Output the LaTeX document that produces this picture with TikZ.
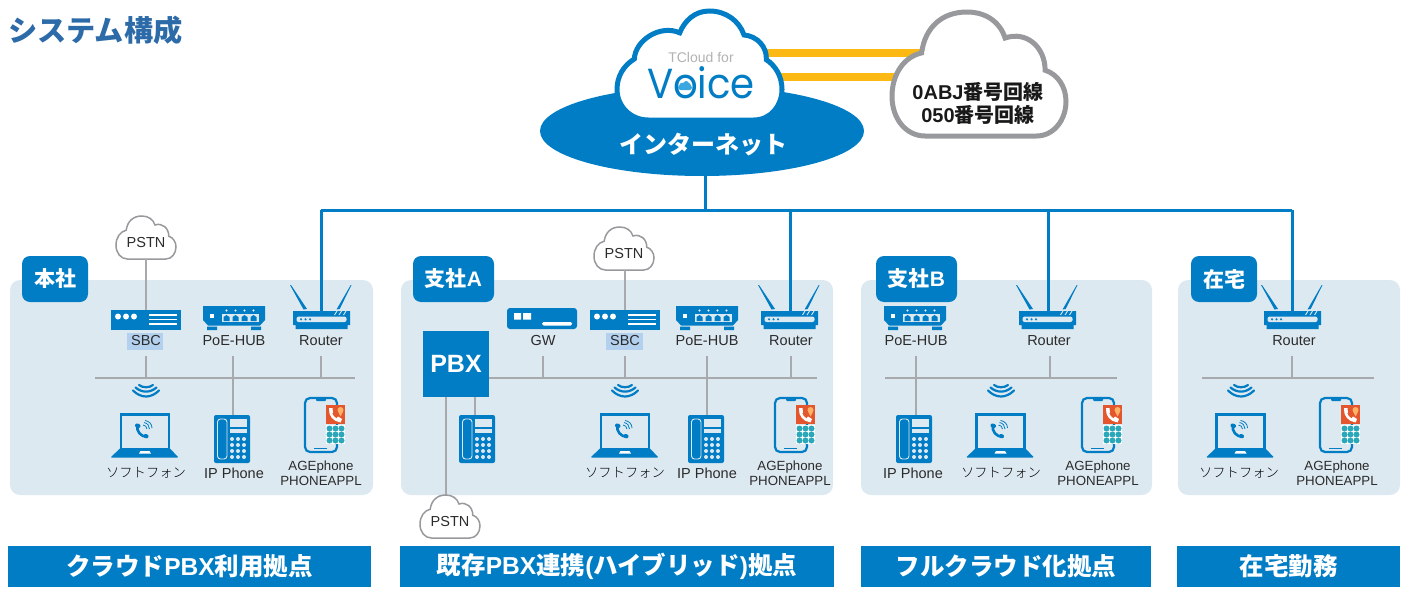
\documentclass[tikz,border=0pt]{standalone}
\usepackage{fontspec}
\setmainfont{Liberation Sans}
\newfontfamily\cjk{Noto Sans CJK JP}
\newfontfamily\cjklight{Noto Sans CJK JP Light}
\newfontfamily\voicefont{Poppins}
\usetikzlibrary{shapes.geometric}
\definecolor{netblue}{HTML}{007DC5}
\definecolor{panelbg}{HTML}{DDE9F1}
\definecolor{wire}{HTML}{A7A9AC}
\definecolor{trunkorange}{HTML}{FDB913}
\definecolor{titleblue}{HTML}{2C6BA8}
\definecolor{sbchl}{HTML}{B3D1EE}
\definecolor{labtext}{HTML}{2B2B2B}
\definecolor{appred}{HTML}{E4572E}
\definecolor{appteal}{HTML}{2AA7B8}
\definecolor{cloudgrey}{HTML}{98999C}
\definecolor{paleblue}{HTML}{3BA7E0}
\newcommand{\fs}[1]{\fontsize{#1}{#1}\selectfont}
\newcommand{\jp}[1]{{\cjk #1}}
\tikzset{
  panel/.style={fill=panelbg,draw=none,rounded corners=10pt},
  tagbox/.style={fill=netblue,rounded corners=8pt,text=white,font=\bfseries\fs{21},inner sep=0pt,minimum height=46pt},
  barbox/.style={fill=netblue,text=white,font=\bfseries\fs{24.5},inner sep=0pt,minimum height=41pt},
  lab/.style={font=\fs{14.5},text=labtext,inner sep=0pt,minimum height=30pt,align=center},
  jlab/.style={font=\cjklight\fs{13.3},text=black,inner sep=0pt},
  applab/.style={font=\fs{13.3},text=labtext,inner sep=0pt,align=center},
  bluewire/.style={draw=netblue,line width=3pt},
  greywire/.style={draw=wire,line width=1.6pt},
  orangewire/.style={draw=trunkorange,line width=8pt},
}
% #1 name, #2 x, #3 y, #4 w, #5 h, #6 draw options
\newcommand{\cloudicon}[6]{%
  \begin{scope}[shift={(#2,#3)},x=#4pt,y=-#5pt]
    \path[#6] (0.19,1) .. controls (0.08,1) and (0,0.87) .. (0,0.72)
      .. controls (0,0.6) and (0.04,0.5) .. (0.105,0.44)
      .. controls (0.11,0.27) and (0.26,0.12) .. (0.38,0.2)
      .. controls (0.41,0.09) and (0.47,0) .. (0.56,0)
      .. controls (0.66,0) and (0.74,0.09) .. (0.77,0.22)
      .. controls (0.85,0.23) and (0.91,0.33) .. (0.905,0.447)
      .. controls (0.96,0.5) and (1,0.6) .. (1,0.72)
      .. controls (1,0.87) and (0.93,1) .. (0.83,1) -- cycle;
    \node[inner sep=0pt,outer sep=0pt,minimum width=#4pt,minimum height=#5pt] (#1) at (0.5,0.5) {};
  \end{scope}}
\newcommand{\cloudiconb}[6]{%
  \begin{scope}[shift={(#2,#3)},x=#4pt,y=-#5pt]
    \path[#6] (0.19,1) .. controls (0.08,1) and (0,0.86) .. (0,0.68)
      .. controls (0,0.5) and (0.07,0.36) .. (0.17,0.33)
      .. controls (0.19,0.12) and (0.29,0) .. (0.43,0)
      .. controls (0.54,0) and (0.62,0.08) .. (0.65,0.21)
      .. controls (0.77,0.15) and (0.88,0.28) .. (0.88,0.47)
      .. controls (0.95,0.5) and (1,0.6) .. (1,0.72)
      .. controls (1,0.87) and (0.93,1) .. (0.83,1) -- cycle;
    \node[inner sep=0pt,outer sep=0pt,minimum width=#4pt,minimum height=#5pt] (#1) at (0.5,0.5) {};
  \end{scope}}
\newcommand{\pstn}[3]{%
  \cloudiconb{#1}{#2}{#3}{60}{43}{fill=white,draw=cloudgrey,line width=1.5pt}
  \node[font=\fs{14.5},text=labtext,inner sep=0pt] at (#2+30,#3+27) {PSTN};}
\newcommand{\sbcicon}[2]{%
  \node[inner sep=0pt,outer sep=0pt,minimum width=70pt,minimum height=20pt,fill=netblue] (#1) at (#2,320) {};
  \begin{scope}[shift={(#2,0)}]
    \foreach \dx in {-28,-20,-12} \fill[white] (\dx,316.5) circle[radius=3pt];
    \foreach \yy in {315,319.5,324} \draw[white,line width=1.6pt] (3,\yy) -- (31,\yy);
  \end{scope}}
\newcommand{\gwicon}[2]{%
  \node[inner sep=0pt,outer sep=0pt,minimum width=70pt,minimum height=21pt,fill=netblue,rounded corners=3pt] (#1) at (#2,318.5) {};
  \begin{scope}[shift={(#2,0)}]
    \fill[white] (-28,313) rectangle (-21,319.5) (-19,313) rectangle (-11,319.5);
    \fill[white,rounded corners=1.5pt] (0,322) rectangle (30,325.5);
  \end{scope}}
\newcommand{\hubicon}[2]{%
  \node[inner sep=0pt,outer sep=0pt,minimum width=62pt,minimum height=24pt] (#1) at (#2,318) {};
  \begin{scope}[shift={(#2,0)}]
    \fill[netblue] (-31,306) -- (31,306) -- (31,320) -- (26,325.5) -- (-26,325.5) -- (-31,320) -- cycle;
    \fill[netblue] (-27,326.7) rectangle (-17,330) (17,326.7) rectangle (27,330);
    \fill[white] (-24,314) rectangle (-20,318);
    \fill[panelbg] (-12,314) rectangle (25,322);
    \foreach \dx in {-7.5,1.5,10.5,19.5} {
      \fill[netblue] (\dx-3,321) -- (\dx-3,317) -- (\dx,315) -- (\dx+3,317) -- (\dx+3,321) -- cycle;
      \fill[white] (\dx,310.5) circle[radius=1.1pt];
    }
  \end{scope}}
\newcommand{\routericon}[2]{%
  \node[inner sep=0pt,outer sep=0pt,minimum width=57pt,minimum height=19pt] (#1) at (#2,320.5) {};
  \begin{scope}[shift={(#2,0)}]
    \fill[netblue] (-31.5,285) -- (-30.5,285) -- (-14.5,309) -- (-18,309.5) -- cycle;
    \fill[netblue] (30,285) -- (29.2,285) -- (15,309.5) -- (18.2,309) -- cycle;
    \fill[netblue] (-28.5,311) -- (28.5,311) -- (28.5,325) -- (26,325) -- (26,329) -- (-26,329) -- (-26,325) -- (-28.5,325) -- cycle;
    \fill[panelbg,rounded corners=2pt] (-25,316.6) rectangle (25,322);
    \foreach \dx in {-20.5,-16,-11.5} \fill[netblue] (\dx,319.3) circle[radius=1.2pt];
    \foreach \dx in {13,17.5,22} \draw[panelbg,line width=.9pt] (\dx,315) -- (\dx+2.5,311);
  \end{scope}}
\newcommand{\wifiicon}[1]{%
  \begin{scope}[shift={(#1,0)}]
    \draw[netblue,line width=2.2pt,line cap=round]
      (-7,385) .. controls (-3,388) and (3,388) .. (7,385)
      (-10.5,387.5) .. controls (-4,393) and (4,393) .. (10.5,387.5)
      (-13,390.5) .. controls (-5,398.5) and (5,398.5) .. (13,390.5);
  \end{scope}}
\newcommand{\laptopicon}[2]{%
  \node[inner sep=0pt,outer sep=0pt,minimum width=67pt,minimum height=45pt] (#1) at (#2,435.5) {};
  \begin{scope}[shift={(#2,0)}]
    \draw[netblue,line width=2.7pt] (-24,414.5) rectangle (24,450);
    \fill[netblue,rounded corners=1pt] (-24.5,448) -- (24.5,448) -- (33.5,457.5) -- (-34.5,457.5) -- cycle;
    \fill[white] (-6,453.5) -- (-4.5,451) -- (4.5,451) -- (6,453.5) -- cycle;
    \draw[netblue,line width=2.6pt,line cap=round] (-7.5,425.5) .. controls (-9,431) and (-4,437) .. (2,436.8);
    \draw[netblue,line width=4pt,line cap=round] (-8,425.5) -- (-6.5,426) (0.5,436) -- (1.5,436.3);
    \draw[netblue,line width=.8pt]
      (-2,425) .. controls (0,425) and (2,427) .. (2,429)
      (-1,422.5) .. controls (2.5,423) and (4.5,426) .. (4.5,429)
      (0,420.5) .. controls (4,421) and (7,424) .. (7,428);
  \end{scope}}
\newcommand{\phoneicon}[2]{%
  \node[inner sep=0pt,outer sep=0pt,minimum width=36pt,minimum height=48pt,fill=netblue,rounded corners=2pt] (#1) at (#2,439) {};
  \begin{scope}[shift={(#2,0)}]
    \draw[panelbg,line width=.9pt,rounded corners=3pt] (-14.5,419) rectangle (-5,459);
    \fill[panelbg] (-2,419) rectangle (15,427);
    \fill[panelbg] (-2,429) rectangle (15,433);
    \foreach \dx in {0,6,12} \foreach \yy in {439,445,451,457}
      \fill[panelbg] (\dx,\yy) circle[radius=2pt];
  \end{scope}}
\newcommand{\smarticon}[2]{%
  \node[inner sep=0pt,outer sep=0pt,minimum width=33pt,minimum height=55pt] (#1) at (#2,424.5) {};
  \begin{scope}[shift={(#2,0)}]
    \draw[netblue,line width=2.2pt,rounded corners=5pt] (-16,398) rectangle (16,452);
    \fill[netblue,rounded corners=1pt] (-5,398) rectangle (5,401);
    \draw[netblue,line width=1pt] (-7,448) -- (6,448);
    \fill[appred] (5,405) rectangle (24,424);
    \draw[white,line width=2.6pt,line cap=round] (9.5,410) .. controls (9,415) and (13,420) .. (19,421);
    \fill[white] (8,408) -- (11.5,408) -- (12,413) -- (9,414) -- cycle (15,419) -- (17,416.5) -- (21,419) -- (19.5,422.5) -- cycle;
    \fill[orange!60!white] (19.5,410) circle[radius=3pt];
    \fill[orange!60!white] (17,411.5) -- (22,411.5) -- (19.5,416.5) -- cycle;
    \fill[white] (5,425) rectangle (24,444);
    \foreach \dx in {8.5,14.5,20.5} \foreach \yy in {428.5,434.5,440.5}
      \fill[appteal] (\dx,\yy) circle[radius=3pt];
  \end{scope}}
\begin{document}
\begin{tikzpicture}[x=1pt,y=-1pt]
\useasboundingbox (0,0) rectangle (1413,602);
% title
\node[font=\cjk\bfseries\fs{29.2},text=titleblue,inner sep=0pt,anchor=west] (title) at (8,30) {システム構成};
% panels
\fill[panel] (10,280) rectangle (373,495);
\fill[panel] (401,280) rectangle (833,495);
\fill[panel] (861,280) rectangle (1152,495);
\fill[panel] (1178,280) rectangle (1400,495);
% orange trunks
\coordinate (orA) at (740,53);
\coordinate (orB) at (740,77);
\coordinate (orC) at (950,53);
\coordinate (orD) at (950,77);
\draw[orangewire] (orA) -- (orC);
\draw[orangewire] (orB) -- (orD);
% internet
\node[ellipse,fill=netblue,minimum width=324pt,minimum height=90pt,inner sep=0pt,outer sep=0pt] (inet) at (702,131) {};
\node[font=\cjk\bfseries\fs{24},text=white,inner sep=0pt] (inettext) at (703,145) {インターネット};
\cloudicon{voicecloud}{617}{11}{165}{109}{fill=white,draw=netblue,line width=5pt}
\node[font=\fs{14},text=black!30,inner sep=0pt] (tcloud) at (701,57) {TCloud for};
\node[font=\voicefont\fs{42},text=netblue,inner sep=0pt,xscale=.92] (voice) at (701,83) {Voice};
\cloudicon{minicloud}{678}{81}{14}{9}{fill=paleblue}
\cloudiconb{telcloud}{892}{12}{174}{124}{fill=white,draw=cloudgrey,line width=5pt}
\node[font=\bfseries\fs{20},text=black!90,inner sep=0pt,align=center] (teltext) at (978,103) {0ABJ\jp{番号回線}\\[3pt]050\jp{番号回線}};
% blue trunk
\coordinate (trunkC) at (705,210);
\coordinate (trunkL) at (321,210);
\coordinate (trunkR) at (1292,210);
\coordinate (dropA) at (790,210);
\coordinate (dropB) at (1048,210);
\draw[bluewire] (trunkC |- inet.south) -- (trunkC);
\draw[bluewire] (trunkL) -- (trunkR);
% --- honsha
\node[lab] (sbc1lab) at (146,341) {\phantom{SBC}};
\node[lab] (hub1lab) at (233,341) {\phantom{PoE-HUB}};
\node[lab] (rt1lab) at (321,341) {\phantom{Router}};
\coordinate (bus1l) at (95,378);
\coordinate (bus1r) at (355,378);
\draw[greywire] (bus1l) -- (bus1r);
\draw[greywire] (sbc1lab.south) -- (sbc1lab.south |- bus1l);
\draw[greywire] (rt1lab.south) -- (rt1lab.south |- bus1l);
\phoneicon{ph1}{232}
\draw[greywire] (hub1lab.south) -- (hub1lab.south |- ph1.north);
\pstn{pstn1}{116}{216}
\sbcicon{sbc1}{146}
\hubicon{hub1}{234}
\routericon{rt1}{321.5}
\draw[greywire] (sbc1.north) -- (sbc1.north |- pstn1.south);
\draw[bluewire] (trunkL) -- (trunkL |- rt1.north);
\fill[sbchl] (127,333) rectangle (163,350);
\node[lab] at (146,341) {SBC};
\node[lab] at (234,341) {PoE-HUB};
\node[lab] at (321,341) {Router};
\wifiicon{146}
\laptopicon{lap1}{145}
\smarticon{sm1}{321}
\node[jlab] (lap1lab) at (146,473) {ソフトフォン};
\node[font=\fs{14.5},text=labtext,inner sep=0pt] (ph1lab) at (234,473) {IP Phone};
\node[applab] (sm1lab) at (321,473) {AGEphone\\[2pt]PHONEAPPL};
\node[tagbox,minimum width=66pt] (tag1) at (55,279) {\jp{本社}};
% --- shisha A
\node[lab] (gw2lab) at (543,341) {GW};
\node[lab] (sbc2lab) at (625,341) {\phantom{SBC}};
\node[lab] (hub2lab) at (707,341) {\phantom{PoE-HUB}};
\node[lab] (rt2lab) at (791,341) {\phantom{Router}};
\node[fill=netblue,text=white,font=\bfseries\fs{25},minimum width=66pt,minimum height=66pt,inner sep=0pt,outer sep=0pt] (pbx) at (456,364) {PBX};
\coordinate (bus2r) at (817,378);
\draw[greywire] (pbx.east |- bus2r) -- (bus2r);
\foreach \n in {gw2lab,sbc2lab,rt2lab} \draw[greywire] (\n.south) -- (\n.south |- bus2r);
\phoneicon{ph2}{706}
\draw[greywire] (hub2lab.south) -- (hub2lab.south |- ph2.north);
\phoneicon{ph3}{477}
\coordinate (pbxa) at (475,397);
\coordinate (pbxb) at (446,397);
\draw[greywire] (pbxa) -- (pbxa |- ph3.north);
\pstn{pstn2}{594}{227}
\coordinate (pstn3top) at (446,515);
\draw[greywire] (pbxb) -- (pstn3top);
\pstn{pstn3}{420}{495}
\gwicon{gw2}{542}
\sbcicon{sbc2}{625}
\hubicon{hub2}{707}
\routericon{rt2}{789.5}
\draw[greywire] (sbc2.north) -- (sbc2.north |- pstn2.south);
\draw[bluewire] (dropA) -- (dropA |- rt2.north);
\fill[sbchl] (606,333) rectangle (643,350);
\node[lab] at (625,341) {SBC};
\node[lab] at (707,341) {PoE-HUB};
\node[lab] at (791,341) {Router};
\wifiicon{625}
\laptopicon{lap2}{625}
\smarticon{sm2}{791}
\node[jlab] (lap2lab) at (625,473) {ソフトフォン};
\node[font=\fs{14.5},text=labtext,inner sep=0pt] (ph2lab) at (707,473) {IP Phone};
\node[applab] (sm2lab) at (790,473) {AGEphone\\[2pt]PHONEAPPL};
\node[tagbox,minimum width=81pt] (tag2) at (453.5,279) {\jp{支社}A};
% --- shisha B
\node[lab] (hub3lab) at (916,341) {\phantom{PoE-HUB}};
\node[lab] (rt3lab) at (1050,341) {\phantom{Router}};
\coordinate (bus3l) at (885,378);
\coordinate (bus3r) at (1117,378);
\draw[greywire] (bus3l) -- (bus3r);
\draw[greywire] (rt3lab.south) -- (rt3lab.south |- bus3l);
\phoneicon{ph4}{914}
\draw[greywire] (hub3lab.south) -- (hub3lab.south |- ph4.north);
\hubicon{hub3}{915}
\routericon{rt3}{1047.5}
\draw[bluewire] (dropB) -- (dropB |- rt3.north);
\node[lab] at (916,341) {PoE-HUB};
\node[lab] at (1049,341) {Router};
\wifiicon{1001}
\laptopicon{lap3}{1000.5}
\smarticon{sm3}{1098}
\node[font=\fs{14.5},text=labtext,inner sep=0pt] (ph4lab) at (913,473) {IP Phone};
\node[jlab] (lap3lab) at (1001,473) {ソフトフォン};
\node[applab] (sm3lab) at (1098,473) {AGEphone\\[2pt]PHONEAPPL};
\node[tagbox,minimum width=81pt] (tag3) at (916.5,279) {\jp{支社}B};
% --- zaitaku
\node[lab] (rt4lab) at (1292,341) {\phantom{Router}};
\coordinate (bus4l) at (1202,378);
\coordinate (bus4r) at (1374,378);
\draw[greywire] (bus4l) -- (bus4r);
\draw[greywire] (rt4lab.south) -- (rt4lab.south |- bus4l);
\routericon{rt4}{1292.5}
\draw[bluewire] (trunkR) -- (trunkR |- rt4.north);
\node[lab] at (1294,341) {Router};
\wifiicon{1241}
\laptopicon{lap4}{1240.5}
\smarticon{sm4}{1336}
\node[jlab] (lap4lab) at (1239,473) {ソフトフォン};
\node[applab] (sm4lab) at (1337,473) {AGEphone\\[2pt]PHONEAPPL};
\node[tagbox,minimum width=66pt] (tag4) at (1224,279) {\jp{在宅}};
% bars
\node[barbox,minimum width=363pt] (bar1) at (189.5,566.5) {\jp{クラウド}PBX\jp{利用拠点}};
\node[barbox,minimum width=434pt] (bar2) at (617,566.5) {\jp{既存}PBX\jp{連携}(\jp{ハイブリッド})\jp{拠点}};
\node[barbox,minimum width=290pt] (bar3) at (1006,566.5) {\jp{フルクラウド化拠点}};
\node[barbox,minimum width=223pt] (bar4) at (1288.5,566.5) {\jp{在宅勤務}};
\end{tikzpicture}
\end{document}
